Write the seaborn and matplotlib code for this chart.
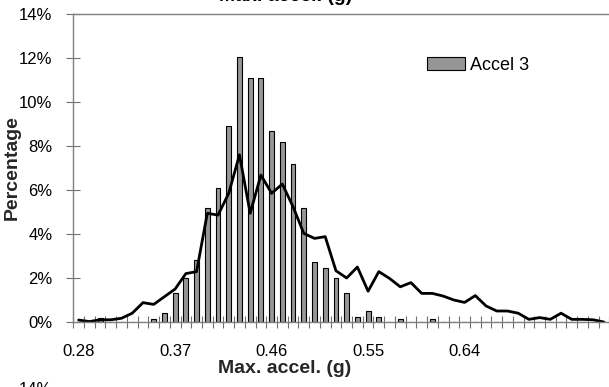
import numpy as np
import pandas as pd
import matplotlib
matplotlib.use("Agg")
import matplotlib.pyplot as plt
import seaborn as sns
from matplotlib.ticker import FuncFormatter

sns.set_theme(style="white")
plt.rcParams['font.family'] = ['Liberation Sans', 'DejaVu Sans']

# ---- data ----
categories = [f"{0.28 + 0.01 * i:.2f}" for i in range(50)]
accel3_pct = [0, 0, 0.2, 0, 0, 0, 0, 0.12, 0.4, 1.3,
              2.0, 2.8, 5.2, 6.1, 8.9, 12.05, 11.1, 11.1, 8.7, 8.2,
              7.2, 5.2, 2.74, 2.44, 1.98, 1.3, 0.22, 0.5, 0.22, 0,
              0.12, 0, 0, 0.12, 0, 0, 0, 0, 0, 0,
              0, 0, 0, 0, 0, 0, 0, 0, 0, 0]
line_pct = [0.09, 0.02, 0.1, 0.1, 0.17, 0.4, 0.88, 0.8, 1.15, 1.5,
            2.2, 2.29, 4.94, 4.86, 5.85, 7.6, 4.94, 6.68, 5.85, 6.27,
            5.24, 4.03, 3.8, 3.88, 2.33, 2.0, 2.5, 1.4, 2.29, 1.98,
            1.6, 1.79, 1.3, 1.3, 1.18, 1.0, 0.89, 1.2, 0.73, 0.5,
            0.5, 0.4, 0.12, 0.2, 0.12, 0.4, 0.12, 0.12, 0.1, 0.0]
x_tick_labels = ["0.28", "0.37", "0.46", "0.55", "0.64"]
y_ticks = [0, 2, 4, 6, 8, 10, 12, 14]

df = pd.DataFrame({"cat": categories, "accel3": accel3_pct, "line": line_pct})
df["pos"] = np.arange(len(df))

W, H = 609, 387
fig = plt.figure(figsize=(W / 100, H / 100), dpi=100)
ax_left, ax_bottom = 73.3, 322
ax_w, ax_h = 536, 308
ax = fig.add_axes([ax_left / W, (H - ax_bottom) / H, ax_w / W, ax_h / H])

sns.barplot(data=df, x="cat", y="accel3", order=categories, color="#969696",
            saturation=1, edgecolor="black", linewidth=0.8, width=0.45,
            label="Accel 3", ax=ax)
sns.lineplot(data=df, x="pos", y="line", color="black", linewidth=2.0,
             legend=False, ax=ax)

n = len(categories)
ax.set_xlim(-0.5, n - 0.5)
ax.set_ylim(0, 14)

ax.set_xticks([categories.index(c) for c in x_tick_labels], x_tick_labels)
ax.set_xticks(np.arange(-0.5, n, 1), minor=True)
ax.tick_params(axis="x", which="major", length=0, labelsize=12, pad=16,
               labelcolor="black")
ax.tick_params(axis="x", which="minor", length=9, width=0.8,
               direction="inout", color="#707070", bottom=True)
ax.set_yticks(y_ticks)
ax.yaxis.set_major_formatter(FuncFormatter(lambda v, p: f"{v:.0f}%"))
ax.tick_params(axis="y", which="major", length=10, width=0.8,
               direction="inout", color="#707070", labelsize=12, pad=10,
               left=True, labelcolor="black")

for side in ["left", "bottom", "top"]:
    ax.spines[side].set_visible(True)
    ax.spines[side].set_color("#808080")
    ax.spines[side].set_linewidth(1.0)
ax.spines["right"].set_visible(False)

ax.set_xlabel("Max. accel. (g)", fontsize=14, fontweight="bold")
ax.xaxis.set_label_coords((285 - ax_left) / ax_w, -(373 - ax_bottom) / ax_h)
ax.xaxis.label.set_va("baseline")
ax.set_ylabel("Percentage", fontsize=14, fontweight="bold")
ax.yaxis.set_label_coords(-(ax_left - 21) / ax_w, 0.5)

leg = ax.legend(loc="center left", bbox_to_anchor=(0.66, 0.834), frameon=False,
                fontsize=13, handlelength=2.1, handleheight=0.7,
                handletextpad=0.3, borderpad=0, borderaxespad=0)
for t in leg.get_texts():
    t.set_color("black")

# partially visible neighbouring texts (cropped in original)
fig.text(286 / W, 1 - 1 / H, "Max. accel. (g)", fontsize=14, fontweight="bold",
         ha="center", va="baseline", color="black")
fig.text(52 / W, (H - 382) / H, "14%", fontsize=12, ha="right", va="top",
         color="black")

fig.savefig("out.png", dpi=100)
